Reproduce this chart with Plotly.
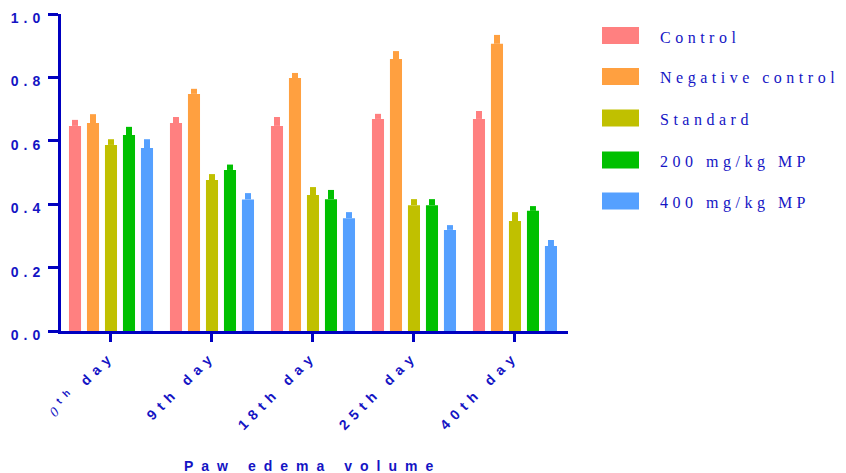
import plotly.graph_objects as go

categories = ["0th day", "9th day", "18th day", "25th day", "40th day"]
series_names = ["Control", "Negative control", "Standard", "200 mg/kg MP", "400 mg/kg MP"]
control = [0.647, 0.656, 0.647, 0.669, 0.669]
negative_control = [0.656, 0.748, 0.798, 0.858, 0.906]
standard = [0.587, 0.476, 0.429, 0.397, 0.347]
mp200 = [0.618, 0.508, 0.416, 0.397, 0.379]
mp400 = [0.577, 0.415, 0.356, 0.319, 0.268]
err_control = [0.019, 0.019, 0.028, 0.016, 0.025]
err_negative = [0.028, 0.016, 0.016, 0.025, 0.028]
err_standard = [0.018, 0.019, 0.025, 0.019, 0.028]
err_mp200 = [0.026, 0.017, 0.029, 0.019, 0.015]
err_mp400 = [0.028, 0.020, 0.019, 0.015, 0.019]
y_ticks = [0.0, 0.2, 0.4, 0.6, 0.8, 1.0]

values = [control, negative_control, standard, mp200, mp400]
errors = [err_control, err_negative, err_standard, err_mp200, err_mp400]
colors = ["#FF8080", "#FFA040", "#C0C000", "#00C000", "#55A0FF"]

AX = "#0000C0"
TXT = "#1414C4"

tick_text = ["<span style='font-family:Liberation Serif;font-weight:normal'><i>0</i></span><sup>th</sup> day"] + categories[1:]

fig = go.Figure()
for name, vals, errs, col in zip(series_names, values, errors, colors):
    fig.add_trace(go.Bar(
        x=categories, y=vals, name=name, marker=dict(color=col, line=dict(width=0)),
        error_y=dict(type="data", array=errs, arrayminus=[0] * len(errs), symmetric=False,
                     color=col, thickness=6, width=0),
        showlegend=False,
    ))

# manual legend
plot_l, plot_r, plot_t, plot_b = 61, 568, 14, 331
W = plot_r - plot_l
H = plot_b - plot_t
row_centers = [35.5, 76.5, 118, 160, 201]
for i, (name, col) in enumerate(zip(series_names, colors)):
    cy = row_centers[i]
    fig.add_shape(type="rect", xref="paper", yref="paper",
                  x0=(602 - plot_l) / W, x1=(639 - plot_l) / W,
                  y0=(plot_b - (cy + 8.5)) / H, y1=(plot_b - (cy - 8.5)) / H,
                  fillcolor=col, line=dict(width=0))

fig.add_annotation(text="Paw edema volume", xref="paper", yref="paper",
                   x=(312 - plot_l) / W, y=(plot_b - 466) / H, xanchor="center", yanchor="middle",
                   showarrow=False,
                   font=dict(family="Liberation Sans", size=14, color=TXT, weight="bold"))
for i, name in enumerate(series_names):
    cy = row_centers[i] + 1.5
    fig.add_annotation(text=name, xref="paper", yref="paper",
                       x=(658 - plot_l) / W, y=(plot_b - cy) / H, xanchor="left", yanchor="middle",
                       showarrow=False,
                       font=dict(family="Liberation Serif", size=16, color=TXT))

fig.update_layout(
    width=846, height=473,
    margin=dict(l=plot_l, r=846 - plot_r, t=plot_t, b=473 - plot_b, autoexpand=False),
    paper_bgcolor="white", plot_bgcolor="white",
    barmode="group", bargap=0.109, bargroupgap=0.33,
    xaxis=dict(
        type="category", range=[-0.495, 4.525], tickmode="array", tickvals=categories, ticktext=tick_text,
        showline=True, linecolor=AX, linewidth=3, ticks="outside", ticklen=8, tickwidth=3, tickcolor=AX,
        showgrid=False, zeroline=False, tickangle=-45,
        tickfont=dict(family="Liberation Sans", size=14, color=TXT, weight="bold"),
    ),
    yaxis=dict(
        range=[0, 1.0], tickmode="array", tickvals=y_ticks, tickformat=".1f",
        showline=True, linecolor=AX, linewidth=3, ticks="outside", ticklen=10, tickwidth=3, tickcolor=AX,
        showgrid=False, zeroline=False, ticklabelshift=4,
        tickfont=dict(family="Liberation Sans", size=14, color=TXT, weight="bold"),
    ),
)

post = """
document.body.style.margin = '0';
document.body.style.padding = '0';
var gd = document.getElementById('{plot_id}');
function applySpacing(){
  gd.querySelectorAll('.ytick text').forEach(function(t){ t.style.letterSpacing='5px'; });
  gd.querySelectorAll('.xtick text').forEach(function(t){ t.style.letterSpacing='6px'; });
  gd.querySelectorAll('.annotation').forEach(function(a){
    var idx = a.getAttribute('data-index');
    var t = a.querySelector('.annotation-text');
    if (!t) return;
    if (idx === '0') {
      t.style.letterSpacing = '8px';
    } else {
      var bb = t.getBBox();
      t.setAttribute('text-anchor', 'start');
      t.setAttribute('x', bb.x);
      t.style.letterSpacing = '4.5px';
    }
  });
}
applySpacing();
"""

fig.write_html("out.html", post_script=post, config={"displayModeBar": False})
